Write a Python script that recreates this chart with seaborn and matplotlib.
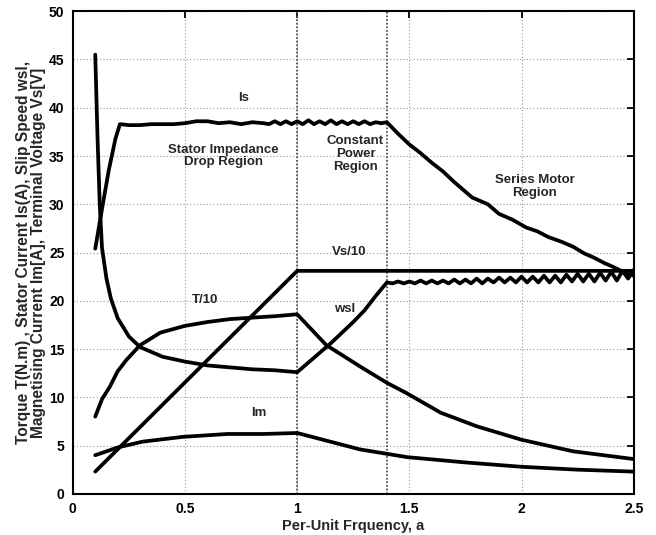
import pandas as pd
import seaborn as sns
import matplotlib.pyplot as plt

# Datos
vs_x = [0.1, 1.0, 2.5]
vs_y = [2.3, 23.1, 23.1]

t_x = [0.1, 0.13, 0.165, 0.2, 0.24, 0.3, 0.39, 0.5, 0.6, 0.7, 0.83, 0.9, 1.0,
       1.13, 1.28, 1.4, 1.49, 1.64, 1.8, 2.0, 2.23, 2.5]
t_y = [8.0, 9.8, 11.1, 12.7, 13.9, 15.4, 16.7, 17.4, 17.8, 18.1, 18.3, 18.4, 18.6,
       15.4, 13.2, 11.5, 10.4, 8.4, 7.0, 5.6, 4.4, 3.6]

im_x = [0.1, 0.2, 0.31, 0.49, 0.69, 0.85, 1.0, 1.28, 1.49, 1.75, 2.0, 2.25, 2.5]
im_y = [4.0, 4.8, 5.4, 5.9, 6.2, 6.2, 6.3, 4.6, 3.8, 3.25, 2.8, 2.5, 2.3]

is_x = [0.1, 0.13, 0.16, 0.19, 0.21, 0.25, 0.3, 0.35, 0.4, 0.45, 0.5, 0.55, 0.6,
        0.65, 0.7, 0.75, 0.8, 0.85, 0.875, 0.9, 0.925, 0.95, 0.975, 1.0, 1.025,
        1.05, 1.075, 1.1, 1.125, 1.15, 1.175, 1.2, 1.225, 1.25, 1.275, 1.3,
        1.325, 1.35, 1.375, 1.4, 1.45, 1.5, 1.55, 1.6, 1.65, 1.7, 1.78, 1.85,
        1.9, 1.96, 2.02, 2.07, 2.12, 2.18, 2.23, 2.28, 2.32, 2.37, 2.41, 2.46, 2.5]
is_y = [25.4, 29.5, 33.5, 36.8, 38.3, 38.2, 38.2, 38.3, 38.3, 38.3, 38.4, 38.6, 38.6,
        38.4, 38.5, 38.3, 38.5, 38.4, 38.3, 38.6, 38.3, 38.6, 38.3, 38.6, 38.3,
        38.7, 38.3, 38.6, 38.3, 38.7, 38.3, 38.6, 38.3, 38.6, 38.3, 38.6,
        38.3, 38.5, 38.4, 38.5, 37.3, 36.2, 35.3, 34.3, 33.4, 32.3, 30.7, 30.0,
        29.0, 28.4, 27.6, 27.2, 26.6, 26.1, 25.6, 24.9, 24.5, 23.9, 23.5, 22.9, 22.6]

wsl_x = [0.1, 0.11, 0.12, 0.13, 0.15, 0.17, 0.2, 0.25, 0.3, 0.4, 0.5, 0.6, 0.7,
         0.8, 0.9, 1.0, 1.05, 1.1, 1.15, 1.2, 1.25, 1.3, 1.35,
         1.4, 1.425, 1.45, 1.475, 1.5, 1.525, 1.55, 1.575, 1.6, 1.625, 1.65,
         1.675, 1.7, 1.725, 1.75, 1.775, 1.8, 1.825, 1.85, 1.875, 1.9, 1.925,
         1.95, 1.975, 2.0, 2.025, 2.05, 2.075, 2.1, 2.125, 2.15, 2.175, 2.2,
         2.225, 2.25, 2.275, 2.3, 2.325, 2.35, 2.375, 2.4, 2.425, 2.45, 2.475, 2.5]
wsl_y = [45.5, 37.0, 30.0, 25.5, 22.3, 20.2, 18.2, 16.3, 15.2, 14.2, 13.7, 13.3, 13.1,
         12.9, 12.8, 12.6, 13.6, 14.6, 15.6, 16.7, 17.8, 19.0, 20.5,
         21.9, 21.8, 22.0, 21.8, 22.0, 21.8, 22.1, 21.8, 22.1, 21.8, 22.1,
         21.8, 22.2, 21.8, 22.2, 21.8, 22.3, 21.8, 22.3, 21.9, 22.4, 21.9,
         22.4, 21.9, 22.5, 21.9, 22.5, 21.9, 22.6, 21.9, 22.6, 21.9, 22.7,
         22.0, 22.8, 22.0, 22.8, 22.0, 22.9, 22.1, 23.0, 22.1, 23.1, 22.3, 23.2]

series = [(vs_x, vs_y), (t_x, t_y), (im_x, im_y), (is_x, is_y), (wsl_x, wsl_y)]

sns.set_theme(style="white")
plt.rcParams['font.family'] = ['Liberation Sans', 'DejaVu Sans']
plt.rcParams['font.weight'] = 'bold'

fig = plt.figure(figsize=(6.56, 5.35), dpi=100)
ax = fig.add_axes([0.111, 0.077, 0.855, 0.902])

for sx, sy in series:
    df = pd.DataFrame({"a": sx, "v": sy})
    sns.lineplot(data=df, x="a", y="v", ax=ax, color="black", linewidth=2.7,
                 sort=False, estimator=None)

# Lineas de region
ax.axvline(1.0, color="#555555", linestyle=(0, (1, 1)), linewidth=1.3, zorder=1)
ax.axvline(1.4, color="#555555", linestyle=(0, (1, 1)), linewidth=1.3, zorder=1)

# Etiquetas
txt = dict(ha="center", va="center", fontsize=9.5, fontweight="bold")
ax.text(0.76, 41.0, "Is", **txt)
ax.text(0.67, 35.0, "Stator Impedance\nDrop Region", linespacing=1.1, **txt)
ax.text(1.26, 35.2, "Constant\nPower\nRegion", linespacing=1.1, **txt)
ax.text(2.06, 31.8, "Series Motor\nRegion", linespacing=1.1, **txt)
ax.text(1.23, 25.1, "Vs/10", **txt)
ax.text(0.59, 20.1, "T/10", **txt)
ax.text(1.21, 19.1, "wsl", **txt)
ax.text(0.83, 8.4, "Im", **txt)

ax.set_xlim(0, 2.5)
ax.set_ylim(0, 50)
ax.set_xticks([0, 0.5, 1, 1.5, 2, 2.5])
ax.set_xticklabels(["0", "0.5", "1", "1.5", "2", "2.5"])
ax.set_yticks(range(0, 51, 5))
ax.grid(True, color="#999999", linestyle=(0, (1, 2)), linewidth=0.8)
ax.tick_params(direction="in", length=5, width=1.3, top=True, right=True,
               labelsize=10, pad=6, colors="black")
for lab in ax.get_xticklabels() + ax.get_yticklabels():
    lab.set_fontweight("bold")
for sp in ax.spines.values():
    sp.set_color("black")
    sp.set_linewidth(1.5)

ax.set_xlabel("Per-Unit Frquency, a", fontsize=10.5, fontweight="bold", labelpad=2)
ax.set_ylabel("Torque T(N.m) , Stator Current Is(A), Slip Speed wsl,\n"
              "Magnetising Current Im[A], Terminal Voltage Vs[V]",
              fontsize=11.2, fontweight="bold", labelpad=2, linespacing=1.05)

plt.savefig("out.png", dpi=100)
